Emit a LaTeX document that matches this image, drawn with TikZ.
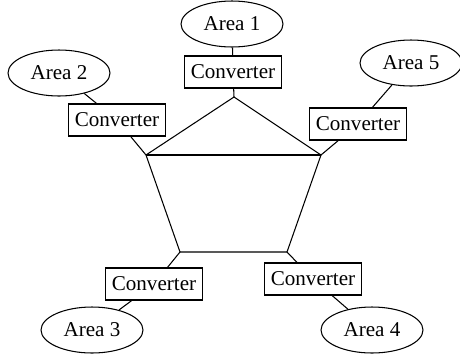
\documentclass[tikz,border=0pt]{standalone}
\usepackage{fontspec}
\setmainfont{Liberation Serif}
\usetikzlibrary{shapes.geometric}

\begin{document}
\begin{tikzpicture}[x=0.02cm,y=-0.02cm,semithick,
    font=\fontsize{12}{14}\selectfont,
    area/.style={draw,ellipse,minimum width=2.04cm,minimum height=0.92cm,inner sep=0pt},
    conv/.style={draw,rectangle,minimum width=1.94cm,minimum height=0.64cm,inner sep=0pt}]
  \useasboundingbox (0,0) rectangle (460,356);

  % pentagon corners
  \coordinate (p1) at (234,97);
  \coordinate (p2) at (146,155);
  \coordinate (p5) at (321,155);
  \coordinate (p3) at (180,252);
  \coordinate (p4) at (287,252);
  \draw (p1) -- (p2) -- (p3) -- (p4) -- (p5) -- cycle;
  \draw (p2) -- (p5);

  % areas
  \node[area] (a1) at (232,24) {Area 1};
  \node[area] (a2) at (59,73) {Area 2};
  \node[area] (a3) at (92,330) {Area 3};
  \node[area] (a4) at (372,330) {Area 4};
  \node[area] (a5) at (411,63) {Area 5};

  % converters
  \node[conv] (c1) at (233,72) {Converter};
  \node[conv] (c2) at (117,120) {Converter};
  \node[conv] (c3) at (154,284) {Converter};
  \node[conv] (c4) at (313,279) {Converter};
  \node[conv] (c5) at (358,124) {Converter};

  \draw (a1) -- (c1);
  \draw (c1) -- (p1);
  \draw (a2) -- (c2);
  \draw (c2) -- (p2);
  \draw (a3) -- (c3);
  \draw (c3) -- (p3);
  \draw (a4) -- (c4);
  \draw (c4) -- (p4);
  \draw (a5) -- (c5);
  \draw (c5) -- (p5);
\end{tikzpicture}
\end{document}
